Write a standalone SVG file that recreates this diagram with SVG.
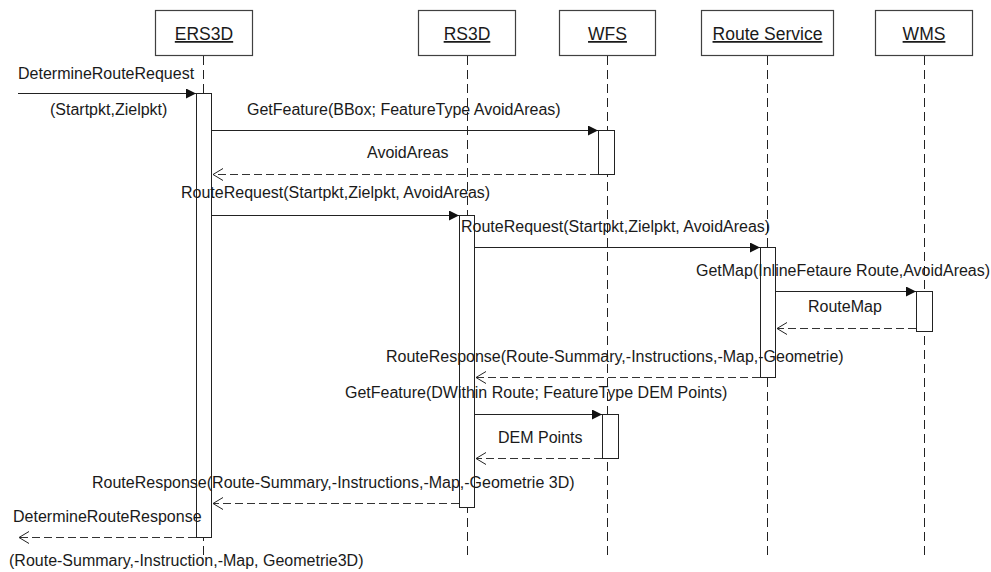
<svg xmlns="http://www.w3.org/2000/svg" width="991" height="572" viewBox="0 0 991 572">
<style>
  text { font-family: "Liberation Sans", Arial, sans-serif; font-size: 16px; fill: #1a1a1a; }
  .head { font-size: 17.5px; text-anchor: middle; text-decoration: underline; }
  .box { fill: #ffffff; stroke: #404040; stroke-width: 1.2; }
  .life { stroke: #222; stroke-width: 1; stroke-dasharray: 9 5; fill: none; }
  .act { fill: #ffffff; stroke: #222; stroke-width: 1; }
  .call { stroke: #222; stroke-width: 1; fill: none; marker-end: url(#filled); }
  .ret { stroke: #333; stroke-width: 1; stroke-dasharray: 8 4; fill: none; marker-end: url(#open); }
</style>
<defs>
  <marker id="filled" markerUnits="userSpaceOnUse" markerWidth="11" markerHeight="11" refX="10" refY="5" orient="auto">
    <path d="M0,0 L10,5 L0,10 z" fill="#111"/>
  </marker>
  <marker id="open" markerUnits="userSpaceOnUse" markerWidth="13" markerHeight="14" refX="11" refY="6.5" orient="auto">
    <path d="M1,0.5 L11,6.5 L1,12.5" fill="none" stroke="#222" stroke-width="1"/>
  </marker>
</defs>
<rect width="991" height="572" fill="#ffffff"/>

<g id="node-ERS3D">
  <rect class="box" x="155.5" y="10.5" width="97" height="45"/>
  <text class="head" x="204" y="40">ERS3D</text>
  <line class="life" x1="203.5" y1="56" x2="203.5" y2="560"/>
</g>
<g id="node-RS3D">
  <rect class="box" x="418.5" y="10.5" width="97" height="45"/>
  <text class="head" x="467" y="40">RS3D</text>
  <line class="life" x1="467.5" y1="56" x2="467.5" y2="560"/>
</g>
<g id="node-WFS">
  <rect class="box" x="559.5" y="10.5" width="96" height="45"/>
  <text class="head" x="607.5" y="40">WFS</text>
  <line class="life" x1="607.5" y1="56" x2="607.5" y2="560"/>
</g>
<g id="node-RouteService">
  <rect class="box" x="701.5" y="10.5" width="132" height="45"/>
  <text class="head" x="767.5" y="40">Route Service</text>
  <line class="life" x1="767.5" y1="56" x2="767.5" y2="560"/>
</g>
<g id="node-WMS">
  <rect class="box" x="875.5" y="10.5" width="97" height="45"/>
  <text class="head" x="924" y="40">WMS</text>
  <line class="life" x1="924.5" y1="56" x2="924.5" y2="560"/>
</g>

<g id="activations">
  <rect class="act" x="196.5" y="93.5" width="15" height="444"/>
  <rect class="act" x="598.5" y="130.5" width="16" height="44"/>
  <rect class="act" x="459.5" y="215.5" width="15" height="292"/>
  <rect class="act" x="760.5" y="247.5" width="15" height="130"/>
  <rect class="act" x="916.5" y="291.5" width="16" height="40"/>
  <rect class="act" x="602.5" y="414.5" width="16" height="44"/>
</g>

<g id="connectors">
  <line class="call" x1="18" y1="93.5" x2="196" y2="93.5"/>
  <line class="call" x1="212" y1="130.5" x2="598" y2="130.5"/>
  <line class="ret" x1="598" y1="174.5" x2="213" y2="174.5"/>
  <line class="call" x1="212" y1="215.5" x2="459" y2="215.5"/>
  <line class="call" x1="475" y1="247.5" x2="760" y2="247.5"/>
  <line class="call" x1="776" y1="291.5" x2="916" y2="291.5"/>
  <line class="ret" x1="916" y1="328.5" x2="777" y2="328.5"/>
  <line class="ret" x1="760" y1="377.5" x2="476" y2="377.5"/>
  <line class="call" x1="475" y1="414.5" x2="602" y2="414.5"/>
  <line class="ret" x1="602" y1="458.5" x2="476" y2="458.5"/>
  <line class="ret" x1="459" y1="503.5" x2="213" y2="503.5"/>
  <line class="ret" x1="196" y1="537.5" x2="19" y2="537.5"/>
</g>

<g id="labels">
  <text x="18" y="79">DetermineRouteRequest</text>
  <text x="50" y="115">(Startpkt,Zielpkt)</text>
  <text x="247" y="115">GetFeature(BBox; FeatureType AvoidAreas)</text>
  <text x="367" y="158">AvoidAreas</text>
  <text x="181" y="198">RouteRequest(Startpkt,Zielpkt, AvoidAreas)</text>
  <text x="461" y="232">RouteRequest(Startpkt,Zielpkt, AvoidAreas)</text>
  <text x="696" y="276">GetMap(InlineFetaure Route,AvoidAreas)</text>
  <text x="808" y="312">RouteMap</text>
  <text x="386" y="362">RouteResponse(Route-Summary,-Instructions,-Map,-Geometrie)</text>
  <text x="345" y="398">GetFeature(DWithin Route; FeatureType DEM Points)</text>
  <text x="498" y="443">DEM Points</text>
  <text x="92" y="488">RouteResponse(Route-Summary,-Instructions,-Map,-Geometrie 3D)</text>
  <text x="13" y="522">DetermineRouteResponse</text>
  <text x="9" y="566">(Route-Summary,-Instruction,-Map, Geometrie3D)</text>
</g>
</svg>
